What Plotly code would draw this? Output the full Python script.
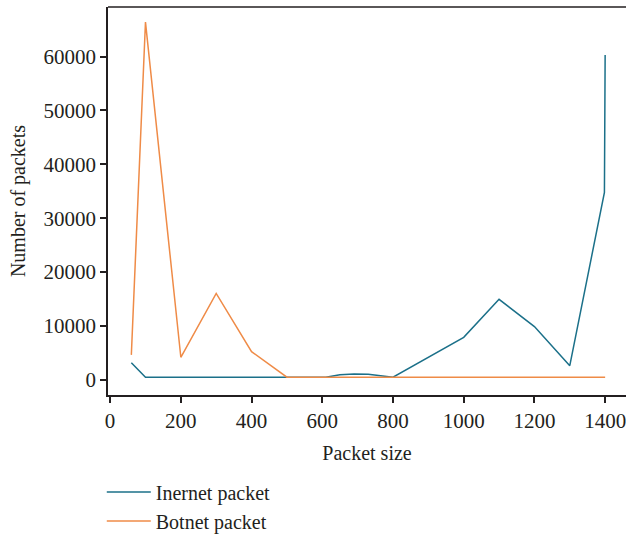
import plotly.graph_objects as go

# Data
internet_x = [60, 100, 200, 300, 400, 500, 610, 650, 690, 730, 770, 800, 1000, 1100, 1200, 1300, 1398, 1400]
internet_y = [3200, 500, 500, 500, 500, 500, 500, 950, 1100, 1050, 800, 500, 7900, 14950, 9900, 2650, 34800, 60300]

botnet_x = [60, 100, 200, 300, 400, 500, 600, 800, 1000, 1200, 1400]
botnet_y = [4650, 66400, 4200, 16050, 5250, 500, 500, 500, 500, 500, 500]

x_ticks = [0, 200, 400, 600, 800, 1000, 1200, 1400]
y_ticks = [0, 10000, 20000, 30000, 40000, 50000, 60000]

FONT = "Liberation Serif"
TEAL = "#1b7089"
ORANGE = "#ef8b47"

fig = go.Figure()
fig.add_trace(go.Scatter(x=internet_x, y=internet_y, mode="lines",
                         name="Inernet packet",
                         line=dict(color=TEAL, width=1.5)))
fig.add_trace(go.Scatter(x=botnet_x, y=botnet_y, mode="lines",
                         name="Botnet packet",
                         line=dict(color=ORANGE, width=1.5)))

fig.update_layout(
    width=626, height=535,
    margin=dict(l=108, r=0, t=7, b=140, autoexpand=False),
    paper_bgcolor="white", plot_bgcolor="white",
    font=dict(family=FONT, size=21, color="#231f20"),
    showlegend=True,
    legend=dict(x=-0.012, xanchor="left", y=-0.2, yanchor="top",
                orientation="v", font=dict(family=FONT, size=20),
                itemwidth=44, tracegroupgap=0, bgcolor="rgba(0,0,0,0)"),
    shapes=[dict(type="line", xref="paper", yref="paper", x0=0, x1=1, y0=1, y1=1,
                 line=dict(color="#231f20", width=1.5))],
)
fig.update_xaxes(range=[-6, 1459], tickvals=x_ticks, ticktext=[str(v) for v in x_ticks],
                 showline=True, linecolor="#231f20", linewidth=1.5, automargin=False,
                 ticks="outside", ticklen=6, tickcolor="#231f20", tickwidth=1.5,
                 ticklabeloverflow="allow",
                 showgrid=False, zeroline=False,
                 title=dict(text="Packet size", standoff=14, font=dict(size=20)))
fig.update_yaxes(range=[-2800, 69200], tickvals=y_ticks, ticktext=[str(v) for v in y_ticks],
                 showline=True, linecolor="#231f20", linewidth=1.5, automargin=False,
                 ticks="outside", ticklen=6, tickcolor="#231f20", tickwidth=1.5,
                 showgrid=False, zeroline=False,
                 title=dict(text="Number of packets", standoff=13, font=dict(size=20)))

fig.write_html("out.html", config={"displayModeBar": False},
               post_script="document.body.style.margin='0';")
